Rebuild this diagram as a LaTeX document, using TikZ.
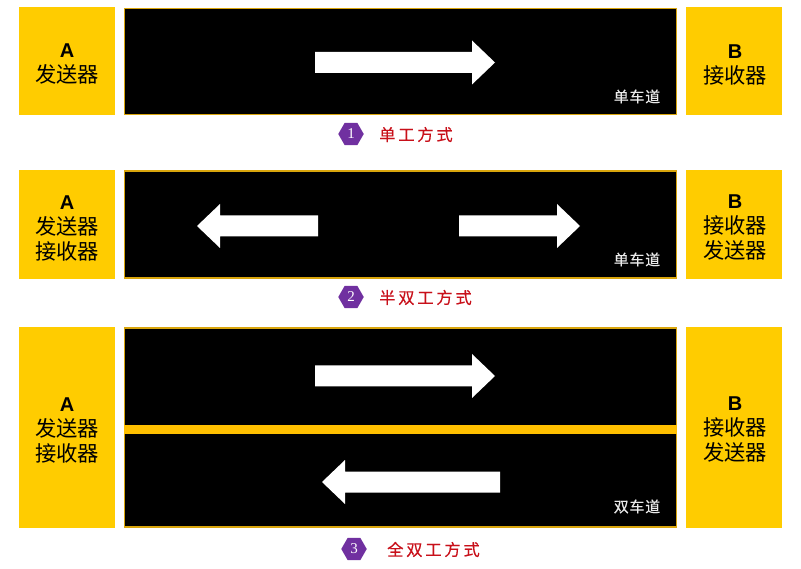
\documentclass[tikz,border=0pt]{standalone}
\usepackage{fontspec}
\usetikzlibrary{shapes.geometric}
\setmainfont{Liberation Sans}
\newfontfamily\cjk{Noto Sans CJK SC}
\newfontfamily\cjkwide[LetterSpace=17,FakeBold=0.4]{Noto Sans CJK SC}
\newfontfamily\cjktag[LetterSpace=5,FakeBold=0.4]{Noto Sans CJK SC}
\newfontfamily\numf{Liberation Serif}
\definecolor{ybox}{HTML}{FFCC00}
\definecolor{yedge}{HTML}{D9A50C}
\definecolor{ybar}{HTML}{FFC000}
\definecolor{hexc}{HTML}{7030A0}
\definecolor{capred}{HTML}{C8101A}
\tikzset{
 endbox/.style={fill=ybox,draw=none,minimum width=96pt,inner sep=0pt},
 boxtxt/.style={inner sep=0pt,align=center,text=black,font=\cjk\fontsize{21.3}{25}\selectfont},
 road/.style={fill=black,draw=yedge,line width=1.4pt,minimum width=552pt,inner sep=0pt},
 barstrip/.style={fill=ybar,draw=none,minimum width=553pt,minimum height=9pt,inner sep=0pt},
 lanetag/.style={inner sep=0pt,font=\cjktag\fontsize{15}{16}\selectfont,text=white!92!black},
 hexnum/.style={regular polygon,regular polygon sides=6,fill=hexc,text=white,inner sep=0pt,minimum size=25.5pt,font=\numf\fontsize{15}{15}\selectfont},
 captxt/.style={text=capred,inner sep=0pt,anchor=west,font=\cjkwide\fontsize{16.3}{18}\selectfont},
 bigarrow/.style={fill=white}
}
\newcommand{\lat}[1]{{\rmfamily\bfseries\fontsize{20}{25}\selectfont #1}}
\newcommand{\rarrow}[3]{\fill[bigarrow] (#1,#3-10.5) -- (#2-23,#3-10.5) -- (#2-23,#3-22) -- (#2,#3) -- (#2-23,#3+22) -- (#2-23,#3+10.5) -- (#1,#3+10.5) -- cycle;}
\newcommand{\larrow}[3]{\fill[bigarrow] (#2,#3-10.5) -- (#1+23,#3-10.5) -- (#1+23,#3-22) -- (#1,#3) -- (#1+23,#3+22) -- (#1+23,#3+10.5) -- (#2,#3+10.5) -- cycle;}
\begin{document}
\begin{tikzpicture}[x=1pt,y=-1pt]
\useasboundingbox (0,0) rectangle (801,569);
% row 1
\node[endbox,minimum height=108pt] (a1) at (67,61) {};
\node[boxtxt] (a1t) at (67,64.5) {\lat{A}\\发送器};
\node[road,minimum height=106.5pt] (r1) at (400.5,61.5) {};
\node[endbox,minimum height=108pt] (b1) at (734,61) {};
\node[boxtxt] (b1t) at (735,64.5) {\lat{B}\\接收器};
\rarrow{315}{495}{62.5}
\node[lanetag] (t1) at (637,96.5) {单车道};
\node[hexnum] (h1) at (351,134) {1};
\node[captxt] (c1) at (379,134.5) {单工方式};
% row 2
\node[endbox,minimum height=109pt] (a2) at (67,224.5) {};
\node[boxtxt] (a2t) at (67,228) {\lat{A}\\发送器\\接收器};
\node[road,minimum height=107pt] (r2) at (400.5,224.5) {};
\node[endbox,minimum height=109pt] (b2) at (734,224.5) {};
\node[boxtxt] (b2t) at (735,228) {\lat{B}\\接收器\\发送器};
\larrow{197}{318}{226}
\rarrow{459}{580}{226}
\node[lanetag] (t2) at (637,259.5) {单车道};
\node[hexnum] (h2) at (351,297) {2};
\node[captxt] (c2) at (379,297.5) {半双工方式};
% row 3
\node[endbox,minimum height=201pt] (a3) at (67,427.5) {};
\node[boxtxt] (a3t) at (67,430) {\lat{A}\\发送器\\接收器};
\node[road,minimum height=199pt] (r3) at (400.5,427.5) {};
\node[endbox,minimum height=201pt] (b3) at (734,427.5) {};
\node[boxtxt] (b3t) at (735,430) {\lat{B}\\接收器\\发送器};
\node[barstrip] (bar) at (400.5,429.5) {};
\rarrow{315}{495}{376}
\larrow{322}{500}{482}
\node[lanetag] (t3) at (637,506.5) {双车道};
\node[hexnum] (h3) at (354,549) {3};
\node[captxt] (c3) at (387,549.5) {全双工方式};
\end{tikzpicture}
\end{document}
